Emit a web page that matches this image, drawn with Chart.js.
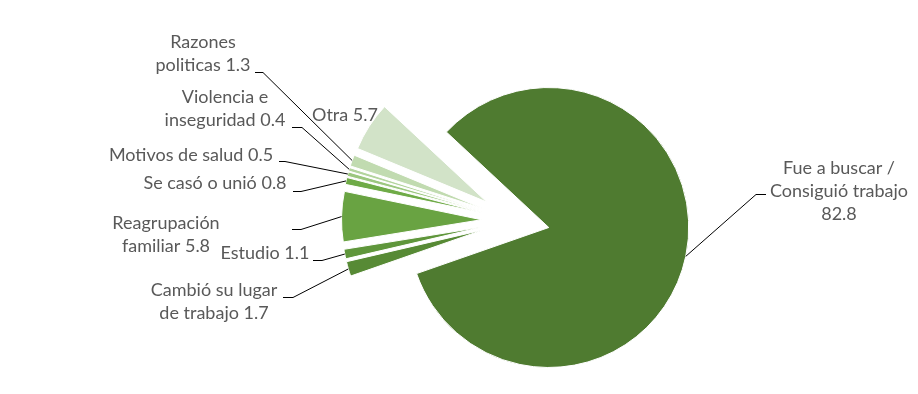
<!DOCTYPE html>
<html>
<head>
<meta charset="utf-8">
<script src="https://cdn.jsdelivr.net/npm/chart.js"></script>
<style>
    html, body { margin: 0; padding: 0; background: #ffffff; }
    #contenedor { width: 918px; height: 394px; }
</style>
</head>
<body>
<div id="contenedor"><canvas id="myChart"></canvas></div>
<script>
// Datos (%)
const categorias = ['Fue a buscar / Consiguió trabajo', 'Cambió su lugar de trabajo', 'Estudio',
    'Reagrupación familiar', 'Se casó o unió', 'Motivos de salud', 'Violencia e inseguridad',
    'Razones politicas', 'Otra'];
const valores = [82.8, 1.7, 1.1, 5.8, 0.8, 0.5, 0.4, 1.3, 5.7];
const colores = ['#4f7b30', '#578a35', '#5f963b', '#69a342', '#6fab47', '#9cc77f', '#b3d49d', '#c1dbb0', '#d2e3c8'];

// Texto de las etiquetas, {v} = valor
const lineasEtiqueta = [
    ['Fue a buscar /', 'Consiguió trabajo', '{v}'],
    ['Cambió su lugar', 'de trabajo {v}'],
    ['Estudio {v}'],
    ['Reagrupación', 'familiar {v}'],
    ['Se casó o unió {v}'],
    ['Motivos de salud {v}'],
    ['Violencia e', 'inseguridad {v}'],
    ['Razones', 'politicas {v}'],
    ['Otra {v}']
];
// centro de la primera línea de cada etiqueta
const posEtiqueta = [[839, 168], [214, 290], [265, 253], [166, 223], [215, 183],
    [191, 155], [225, 97], [203, 42], [345, 115]];
// guía: [x inicio, x fin, y] del tramo horizontal
const guias = [[766, 756, 194], [283, 293, 297], [313, 322, 260], [292, 301, 229], [293, 301, 191],
    [279, 285, 161], [292, 302, 127], [255, 263, 72], null];

const DISTANCIA = 34; // separación de las rebanadas

const explotar = {
    id: 'explotar',
    beforeDatasetDraw(chart, args) {
        const ctx = chart.ctx;
        args.meta.data.forEach(arc => {
            const ang = (arc.startAngle + arc.endAngle) / 2;
            ctx.save();
            ctx.translate(Math.cos(ang) * DISTANCIA, Math.sin(ang) * DISTANCIA);
            arc.draw(ctx);
            ctx.restore();
        });
        return false;
    }
};

const etiquetas = {
    id: 'etiquetas',
    afterDraw(chart) {
        const ctx = chart.ctx;
        const arcs = chart.getDatasetMeta(0).data;
        ctx.save();
        // líneas guía
        ctx.strokeStyle = '#000000';
        ctx.lineWidth = 1;
        arcs.forEach((arc, i) => {
            const g = guias[i];
            if (!g) return;
            const ang = (arc.startAngle + arc.endAngle) / 2;
            const r = arc.outerRadius + DISTANCIA;
            ctx.beginPath();
            ctx.moveTo(g[0], g[2] + 0.5);
            ctx.lineTo(g[1], g[2] + 0.5);
            ctx.lineTo(arc.x + Math.cos(ang) * r, arc.y + Math.sin(ang) * r);
            ctx.stroke();
        });
        // textos
        ctx.fillStyle = '#595959';
        ctx.font = '18px Lato';
        ctx.textAlign = 'center';
        ctx.textBaseline = 'middle';
        lineasEtiqueta.forEach((lineas, i) => {
            lineas.forEach((t, k) => {
                ctx.fillText(t.replace('{v}', valores[i].toFixed(1)), posEtiqueta[i][0], posEtiqueta[i][1] + k * 23);
            });
        });
        ctx.restore();
    }
};

new Chart(document.getElementById('myChart'), {
    type: 'pie',
    data: {
        labels: categorias,
        datasets: [{
            data: valores,
            backgroundColor: colores,
            borderColor: '#ffffff',
            borderWidth: 1
        }]
    },
    options: {
        responsive: true,
        maintainAspectRatio: false,
        animation: false,
        rotation: 313,
        layout: { padding: { left: 375, right: 262, top: 80, bottom: 33 } },
        plugins: {
            legend: { display: false },
            tooltip: { enabled: false }
        }
    },
    plugins: [explotar, etiquetas]
});
</script>
</body>
</html>
